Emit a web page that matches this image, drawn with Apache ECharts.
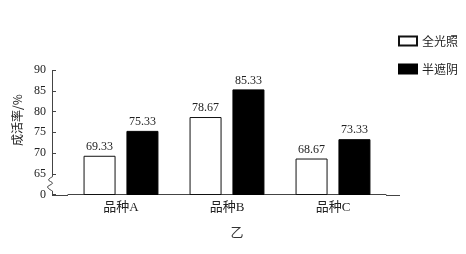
<!DOCTYPE html>
<html><head><meta charset="utf-8">
<script src="https://cdn.jsdelivr.net/npm/echarts@6/dist/echarts.min.js"></script>
<style>html,body{margin:0;padding:0;background:#fff}#c{width:466px;height:254px}</style>
</head><body><div id="c"></div>
<script>
const categories = ['品种A', '品种B', '品种C'];
const seriesNames = ['全光照', '半遮阴'];
const fullLight = [69.33, 78.67, 68.67];
const halfShade = [75.33, 85.33, 73.33];
const yMin = 60, yMax = 90, yStep = 5; // bottom tick (60) is shown as the broken-axis "0"
const yAxisTitle = '成活率/%';
const xTitle = '乙';

const serif = '"Liberation Serif","Noto Sans CJK SC",serif';
const cjk = '"Noto Sans CJK SC","Liberation Serif",sans-serif';
const axisColor = '#444';
const gridLeft = 68, yOffset = 16, gridTop = 70, gridBottom = 59.5, gridRight = 80;

const chart = echarts.init(document.getElementById('c'), null, {renderer: 'canvas'});
const labelCfg = {show: true, position: 'top', distance: 3, color: '#222', fontFamily: serif, fontSize: 12,
  formatter: p => p.value.toFixed(2)};
chart.setOption({
  animation: false,
  grid: {left: gridLeft, right: gridRight, top: gridTop, bottom: gridBottom},
  legend: {
    orient: 'vertical', left: 393, top: 30, itemWidth: 18, itemHeight: 9, itemGap: 16,
    icon: 'rect',
    textStyle: {fontFamily: cjk, fontSize: 12, color: '#222'},
    data: seriesNames
  },
  xAxis: {
    type: 'category', data: categories,
    axisLine: {lineStyle: {color: axisColor, width: 1}},
    axisTick: {show: false},
    axisLabel: {color: '#222', fontFamily: serif, fontSize: 13, margin: 7}
  },
  yAxis: {
    type: 'value', min: yMin, max: yMax, interval: yStep, offset: yOffset,
    splitLine: {show: false},
    axisLine: {show: false},
    axisTick: {show: true, inside: true, length: 4, lineStyle: {color: axisColor}},
    axisLabel: {color: '#222', fontFamily: serif, fontSize: 12, margin: 6,
      formatter: v => v === yMin ? '0' : String(v)}
  },
  series: [
    {name: seriesNames[0], type: 'bar', data: fullLight, barWidth: 32, barGap: '34%',
     itemStyle: {color: '#fff', borderColor: '#111', borderWidth: 1}, label: labelCfg},
    {name: seriesNames[1], type: 'bar', data: halfShade, barWidth: 32, barGap: '34%',
     itemStyle: {color: '#000', borderColor: '#000', borderWidth: 1}, label: labelCfg}
  ]
});

// decorations: y-axis line with break squiggle, x-axis line extensions, titles
const axL = gridLeft - yOffset;           // left pixel edge of the 1px axis line
const ax = axL + 0.5;
const yBase = chart.convertToPixel({yAxisIndex: 0}, yMin);
const yTop = chart.convertToPixel({yAxisIndex: 0}, yMax);
const y65 = chart.convertToPixel({yAxisIndex: 0}, yMin + yStep);
const xRightEnd = 466 - gridRight;
const bTop = y65 + 3, bBot = yBase - 3.5, h = bBot - bTop;
const yb = Math.round(yBase);
chart.setOption({
  graphic: [
    {type: 'rect', z: 100, shape: {x: axL, y: Math.round(yTop), width: 1, height: bTop - Math.round(yTop)},
      style: {fill: axisColor}},
    {type: 'polyline', z: 101, shape: {smooth: 0.4, points: [
      [ax, bTop], [ax - 4, bTop + h * 0.22], [ax, bTop + h * 0.45],
      [ax - 5, bTop + h * 0.72], [ax, bBot]]},
      style: {fill: null, stroke: axisColor, lineWidth: 1}},
    {type: 'rect', z: 100, shape: {x: axL, y: bBot, width: 1, height: yb - bBot + 1},
      style: {fill: axisColor}},
    {type: 'rect', z: 100, shape: {x: axL, y: yb, width: gridLeft - axL, height: 1},
      style: {fill: axisColor}},
    {type: 'rect', z: 100, shape: {x: xRightEnd, y: yb, width: 400 - xRightEnd, height: 1},
      style: {fill: axisColor}},
    {type: 'text', x: 17, y: 120, rotation: Math.PI / 2,
      style: {text: yAxisTitle, fontFamily: cjk, fontSize: 12, fill: '#222', align: 'center', verticalAlign: 'middle'}},
    {type: 'text', x: 237, y: 232,
      style: {text: xTitle, fontFamily: cjk, fontSize: 13, fill: '#333', align: 'center', verticalAlign: 'middle'}}
  ]
});
</script></body></html>
